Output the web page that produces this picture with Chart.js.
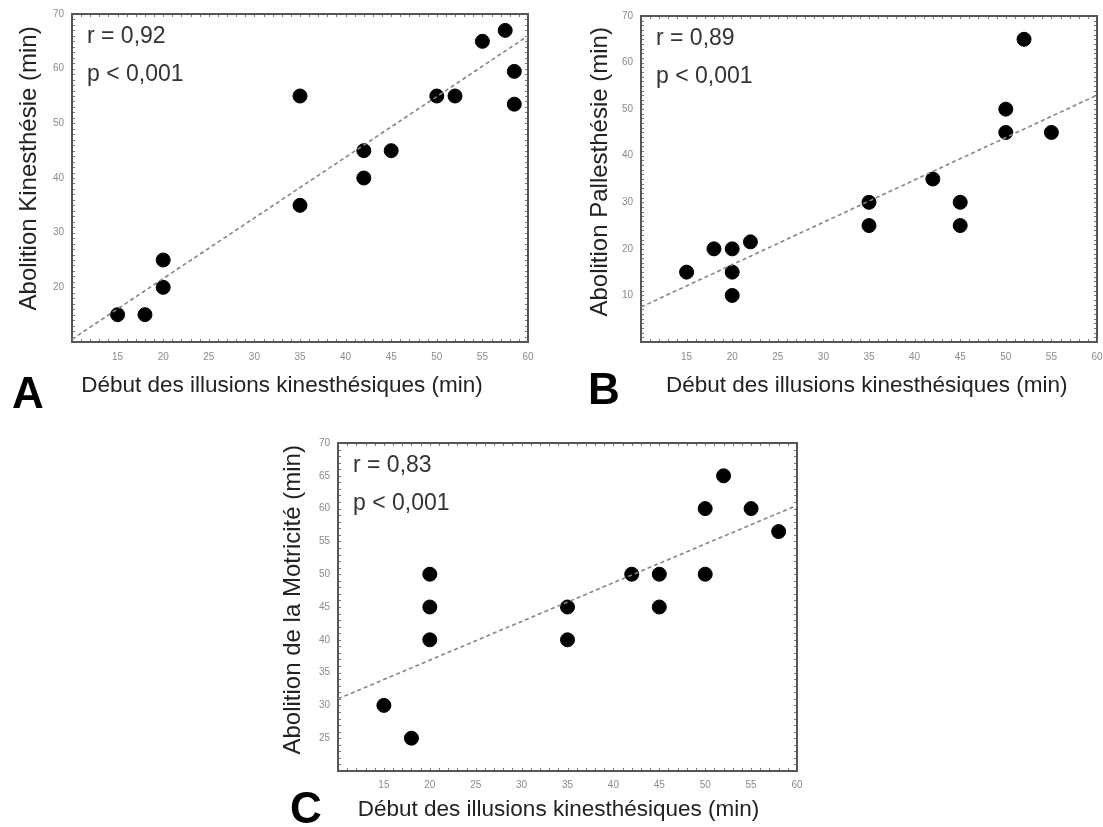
<!DOCTYPE html>
<html lang="fr">
<head>
<meta charset="utf-8">
<title>Corrélations illusions kinesthésiques</title>
<script src="https://cdn.jsdelivr.net/npm/chart.js@4.4.1/dist/chart.umd.min.js"></script>
<style>
  html, body { margin: 0; padding: 0; background: #fff; overflow: hidden; }
  body { width: 1103px; height: 827px; position: relative; font-family: "Liberation Sans", Arial, sans-serif; }
  canvas { position: absolute; }
  .lettre { position: absolute; font-weight: bold; font-size: 44px; line-height: 44px; color: #000; }
</style>
</head>
<body>
<canvas id="chartA" width="545" height="410" style="left:0;top:0"></canvas>
<canvas id="chartB" width="545" height="410" style="left:570px;top:0"></canvas>
<canvas id="chartC" width="560" height="402" style="left:260px;top:425px"></canvas>
<div class="lettre" style="left:12px;top:371px">A</div>
<div class="lettre" style="left:588px;top:367px">B</div>
<div class="lettre" style="left:290px;top:786px">C</div>

<script>
// ===================== Données =====================
const xTitle = "Début des illusions kinesthésiques (min)";

// A : Abolition Kinesthésie
const xA = [15, 18, 20, 20, 35, 35, 42, 42, 45, 50, 52, 55, 57.5, 58.5, 58.5];
const yA = [15, 15, 25, 20, 55, 35, 45, 40, 45, 55, 55, 65, 67, 59.5, 53.5];
const fitA = [10.5, 66];          // droite de régression à x = 10 et x = 60
const noteA = ["r = 0,92", "p < 0,001"];

// B : Abolition Pallesthésie
const xB = [15, 18, 20, 20, 20, 22, 35, 35, 42, 45, 45, 50, 50, 52, 55];
const yB = [15, 20, 20, 15, 10, 21.5, 30, 25, 35, 30, 25, 50, 45, 65, 45];
const fitB = [7.5, 53];
const noteB = ["r = 0,89", "p < 0,001"];

// C : Abolition de la Motricité
const xC = [15, 18, 20, 20, 20, 35, 35, 42, 45, 45, 50, 50, 52, 55, 58];
const yC = [30, 25, 50, 45, 40, 45, 40, 50, 50, 45, 60, 50, 65, 60, 56.5];
const fitC = [31, 60.5];
const noteC = ["r = 0,83", "p < 0,001"];

const fitX = [10, 60];

// ===================== Helpers =====================
const FONT = "'Liberation Sans', Arial, sans-serif";
const THIN = "\u2009";

function toPoints(xs, ys) {
    return xs.map((x, i) => ({ x, y: ys[i] }));
}

// cadre + petites graduations + texte r / p
function framePlugin(notes) {
    return {
        id: "cadre",
        beforeDatasetsDraw(chart) {
            const { ctx, chartArea: a, scales } = chart;
            const xs = scales.x, ys = scales.y;
            ctx.save();
            ctx.strokeStyle = "#7a7a7a";
            ctx.lineWidth = 1;
            ctx.beginPath();
            for (let v = xs.min + 1; v < xs.max; v++) {
                const px = Math.round(xs.getPixelForValue(v)) + 0.5;
                ctx.moveTo(px, a.bottom); ctx.lineTo(px, a.bottom - 3);
                ctx.moveTo(px, a.top); ctx.lineTo(px, a.top + 3);
            }
            for (let v = ys.min + 1; v < ys.max; v++) {
                const py = Math.round(ys.getPixelForValue(v)) + 0.5;
                ctx.moveTo(a.left, py); ctx.lineTo(a.left + 3, py);
                ctx.moveTo(a.right, py); ctx.lineTo(a.right - 3, py);
            }
            ctx.stroke();
            ctx.strokeStyle = "#555";
            ctx.lineWidth = 2;
            ctx.strokeRect(a.left, a.top, a.right - a.left, a.bottom - a.top);

            ctx.fillStyle = "#333";
            ctx.font = "23px " + FONT;
            ctx.textBaseline = "middle";
            ctx.fillText(notes[0], a.left + 15, a.top + 23);
            ctx.fillText(notes[1], a.left + 15, a.top + 61);
            ctx.restore();
        }
    };
}

function makeChart(id, cfg) {
    const ctx = document.getElementById(id).getContext("2d");
    // les titres sont un peu décentrés dans l'original : espaces fines pour les décaler
    const xLabel = xTitle + THIN.repeat(cfg.xShift);
    const yLabel = THIN.repeat(cfg.yShift) + cfg.yTitle;
    return new Chart(ctx, {
        type: "scatter",
        data: {
            datasets: [
                {
                    type: "line",
                    data: toPoints(fitX, cfg.fit),
                    borderColor: "#858585",
                    borderWidth: 1.6,
                    borderDash: [4, 3],
                    pointRadius: 0,
                    fill: false
                },
                {
                    data: toPoints(cfg.xs, cfg.ys),
                    backgroundColor: "#000",
                    borderColor: "#000",
                    pointRadius: 7,
                    pointHoverRadius: 7
                }
            ]
        },
        options: {
            responsive: false,
            animation: false,
            clip: false,
            layout: { padding: cfg.pad },
            plugins: { legend: { display: false }, tooltip: { enabled: false } },
            scales: {
                x: {
                    type: "linear",
                    min: 10, max: 60,
                    grid: { display: false, drawTicks: false },
                    border: { display: false },
                    ticks: {
                        stepSize: 5, padding: cfg.xTickPad, color: "#8a8a8a",
                        font: { size: 10, family: FONT },
                        callback: (v) => v === 10 ? "" : v
                    },
                    title: { display: true, text: xLabel, color: "#222", padding: 0, font: { size: 22.5, family: FONT } },
                    afterFit: (s) => { s.height = cfg.xH; }
                },
                y: {
                    type: "linear",
                    min: cfg.yMin, max: 70,
                    grid: { display: false, drawTicks: false },
                    border: { display: false },
                    ticks: {
                        stepSize: cfg.yStep, padding: 8, color: "#8a8a8a",
                        font: { size: 10, family: FONT },
                        callback: (v) => v === cfg.yMin ? "" : v
                    },
                    title: { display: true, text: yLabel, color: "#222", padding: 0, font: { size: 24, family: FONT } },
                    afterFit: (s) => { s.width = cfg.yW; }
                }
            }
        },
        plugins: [framePlugin(cfg.notes)]
    });
}

// ===================== Graphiques =====================
makeChart("chartA", {
    xs: xA, ys: yA, fit: fitA, notes: noteA,
    yTitle: "Abolition Kinesthésie (min)", yMin: 10, yStep: 10,
    pad: { left: 15, right: 17, top: 14, bottom: 11 }, yW: 57, xH: 57, xTickPad: 9,
    xShift: 8, yShift: 4
});

makeChart("chartB", {
    xs: xB, ys: yB, fit: fitB, notes: noteB,
    yTitle: "Abolition Pallesthésie (min)", yMin: 0, yStep: 10,
    pad: { left: 16, right: 18, top: 16, bottom: 11 }, yW: 55, xH: 57, xTickPad: 9,
    xShift: 1, yShift: 3
});

makeChart("chartC", {
    xs: xC, ys: yC, fit: fitC, notes: noteC,
    yTitle: "Abolition de la Motricité (min)", yMin: 20, yStep: 5,
    pad: { left: 19, right: 23, top: 18, bottom: 4 }, yW: 59, xH: 52, xTickPad: 8,
    xShift: 4, yShift: 3
});
</script>
</body>
</html>
